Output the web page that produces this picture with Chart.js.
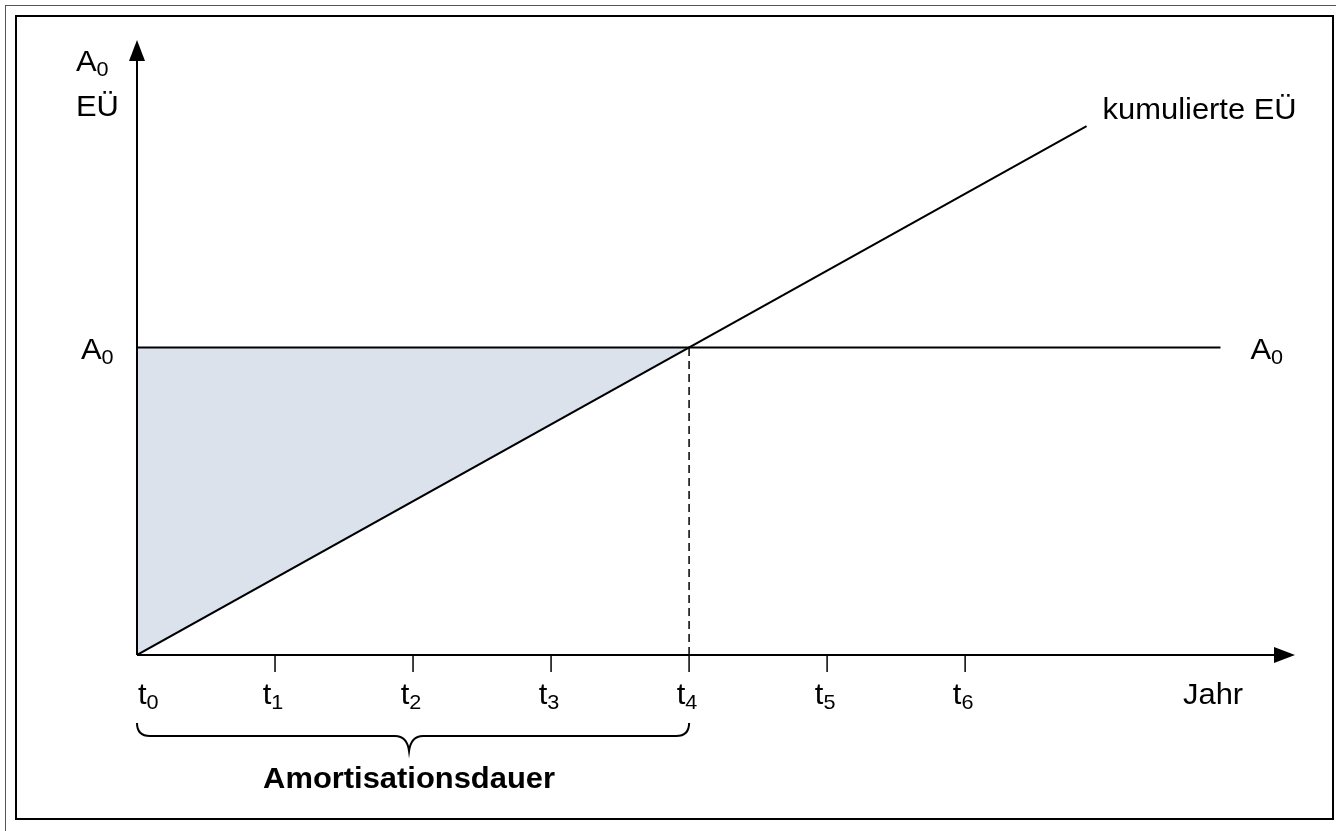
<!DOCTYPE html>
<html lang="de">
<head>
<meta charset="utf-8">
<title>Amortisationsdauer</title>
<script src="https://cdn.jsdelivr.net/npm/chart.js@4.4.0/dist/chart.umd.min.js"></script>
<style>
  html, body { margin: 0; padding: 0; background: #fff; }
  #wrap { position: relative; width: 1336px; height: 831px; }
</style>
</head>
<body>
<div id="wrap"><canvas id="chart"></canvas></div>
<script>
// --- Daten ---
const cumYears = [0, 6.88];        // kumulierte EÜ (Gerade)
const cumValues = [0, 1.72];
const a0Years = [0, 7.85];         // Anschaffungsauszahlung A0
const a0Values = [1, 1];
const paybackYear = 4;             // Amortisationszeitpunkt t4
const tickYears = [0, 1, 2, 3, 4, 5, 6];
const tickSubs = ["0", "1", "2", "3", "4", "5", "6"];
const shadeYears = [0, 0, 4];      // Fläche zwischen A0 und kumulierter EÜ
const shadeValues = [0, 1, 1];

const FONT = '"Liberation Sans", Arial, sans-serif';
const STRETCH = 1.03;
const SIZE = 30;
const SUB = 21;

// --- Text-Helfer ---
function drawText(ctx, s, x, y, size, bold) {
  ctx.save();
  ctx.font = `${bold ? "bold " : ""}${size}px ${FONT}`;
  const w = ctx.measureText(s).width * STRETCH;
  ctx.translate(x, y);
  ctx.scale(STRETCH, 1);
  ctx.fillStyle = "#000";
  ctx.textAlign = "left";
  ctx.textBaseline = "alphabetic";
  ctx.fillText(s, 0, 0);
  ctx.restore();
  return w;
}

function textWidth(ctx, s, size, bold) {
  ctx.save();
  ctx.font = `${bold ? "bold " : ""}${size}px ${FONT}`;
  const w = ctx.measureText(s).width * STRETCH;
  ctx.restore();
  return w;
}

function drawSub(ctx, main, sub, x, y) {
  const w = drawText(ctx, main, x, y, SIZE);
  drawText(ctx, sub, x + w, y + 5, SUB);
}

function subWidth(ctx, main, sub) {
  return textWidth(ctx, main, SIZE) + textWidth(ctx, sub, SUB);
}

// --- Rahmen, Achsen, Beschriftungen ---
const decor = {
  id: "decor",
  beforeDraw(chart) {
    const ctx = chart.ctx;
    ctx.save();
    ctx.fillStyle = "#fff";
    ctx.fillRect(0, 0, chart.width, chart.height);
    ctx.strokeStyle = "#555";
    ctx.lineWidth = 1;
    ctx.strokeRect(5.5, 5.5, chart.width + 20, chart.height + 20);
    ctx.strokeStyle = "#000";
    ctx.lineWidth = 2;
    ctx.strokeRect(16, 16, chart.width - 19, chart.height - 28);
    ctx.restore();
  },
  afterDatasetsDraw(chart) {
    const ctx = chart.ctx;
    const xs = chart.scales.x, ys = chart.scales.y;
    const area = chart.chartArea;
    const x0 = xs.getPixelForValue(0), y0 = ys.getPixelForValue(0);

    ctx.save();
    ctx.strokeStyle = "#000";
    ctx.fillStyle = "#000";
    ctx.lineWidth = 2;

    // Achsen
    ctx.beginPath();
    ctx.moveTo(x0, y0);
    ctx.lineTo(area.right - 18, y0);
    ctx.moveTo(x0, y0);
    ctx.lineTo(x0, area.top + 18);
    ctx.stroke();

    // Pfeilspitzen
    ctx.beginPath();
    ctx.moveTo(area.right, y0);
    ctx.lineTo(area.right - 21, y0 - 8);
    ctx.lineTo(area.right - 21, y0 + 8);
    ctx.closePath();
    ctx.fill();
    ctx.beginPath();
    ctx.moveTo(x0, area.top);
    ctx.lineTo(x0 - 8, area.top + 21);
    ctx.lineTo(x0 + 8, area.top + 21);
    ctx.closePath();
    ctx.fill();

    // Teilstriche + Beschriftung t0..t6
    ctx.lineWidth = 1.5;
    tickYears.forEach((yr, i) => {
      const px = xs.getPixelForValue(yr);
      if (yr > 0) {
        ctx.beginPath();
        ctx.moveTo(px, y0);
        ctx.lineTo(px, y0 + 17);
        ctx.stroke();
      }
      const w = subWidth(ctx, "t", tickSubs[i]);
      let left = px - w / 2 - 2;
      if (left < x0) left = x0 + 1;
      drawSub(ctx, "t", tickSubs[i], left, y0 + 49);
    });

    drawText(ctx, "Jahr", area.right - 112, y0 + 49, SIZE);

    // y-Achsenbeschriftung
    drawSub(ctx, "A", "0", x0 - 61, area.top + 31);
    drawText(ctx, "EÜ", x0 - 61, area.top + 76, SIZE);

    // A0 links und rechts
    const yA = ys.getPixelForValue(a0Values[0]);
    drawSub(ctx, "A", "0", x0 - 56, yA + 11);
    drawSub(ctx, "A", "0", xs.getPixelForValue(a0Years[1]) + 30, yA + 11);

    // kumulierte EÜ
    const xe = xs.getPixelForValue(cumYears[1]);
    const ye = ys.getPixelForValue(cumValues[1]);
    drawText(ctx, "kumulierte EÜ", xe + 16, ye - 7, SIZE);

    // geschweifte Klammer
    const xb0 = x0, xb1 = xs.getPixelForValue(paybackYear);
    const mid = (xb0 + xb1) / 2 - 4;
    const yb = y0 + 81;
    ctx.lineWidth = 2;
    ctx.beginPath();
    ctx.moveTo(xb0, yb - 13);
    ctx.quadraticCurveTo(xb0, yb, xb0 + 13, yb);
    ctx.lineTo(mid - 14, yb);
    ctx.quadraticCurveTo(mid - 2, yb, mid, yb + 15);
    ctx.quadraticCurveTo(mid + 2, yb, mid + 14, yb);
    ctx.lineTo(xb1 - 13, yb);
    ctx.quadraticCurveTo(xb1, yb, xb1, yb - 13);
    ctx.stroke();

    const label = "Amortisationsdauer";
    const lw = textWidth(ctx, label, SIZE, true);
    drawText(ctx, label, mid - lw / 2, yb + 52, SIZE, true);

    ctx.restore();
  }
};

const toPts = (xsArr, ysArr) => xsArr.map((x, i) => ({ x, y: ysArr[i] }));

new Chart(document.getElementById("chart"), {
  type: "scatter",
  data: {
    datasets: [
      {
        data: toPts(shadeYears, shadeValues),
        showLine: true,
        fill: "shape",
        backgroundColor: "#dce2ec",
        borderWidth: 0,
        pointRadius: 0,
        order: 5,
      },
      {
        data: toPts(a0Years, a0Values),
        showLine: true,
        borderColor: "#000",
        borderWidth: 2,
        pointRadius: 0,
        order: 2,
      },
      {
        data: toPts(cumYears, cumValues),
        showLine: true,
        borderColor: "#000",
        borderWidth: 2,
        pointRadius: 0,
        order: 1,
      },
      {
        data: toPts([paybackYear, paybackYear], [0, 1]),
        showLine: true,
        borderColor: "#000",
        borderWidth: 1.5,
        borderDash: [8, 5],
        pointRadius: 0,
        order: 3,
      },
    ],
  },
  options: {
    responsive: true,
    maintainAspectRatio: false,
    animation: false,
    layout: { padding: { left: 137, right: 41, top: 40, bottom: 176 } },
    plugins: { legend: { display: false }, tooltip: { enabled: false } },
    scales: {
      x: { type: "linear", min: 0, max: 8.39, display: false },
      y: { type: "linear", min: 0, max: 2.0, display: false },
    },
  },
  plugins: [decor],
});
</script>
</body>
</html>
